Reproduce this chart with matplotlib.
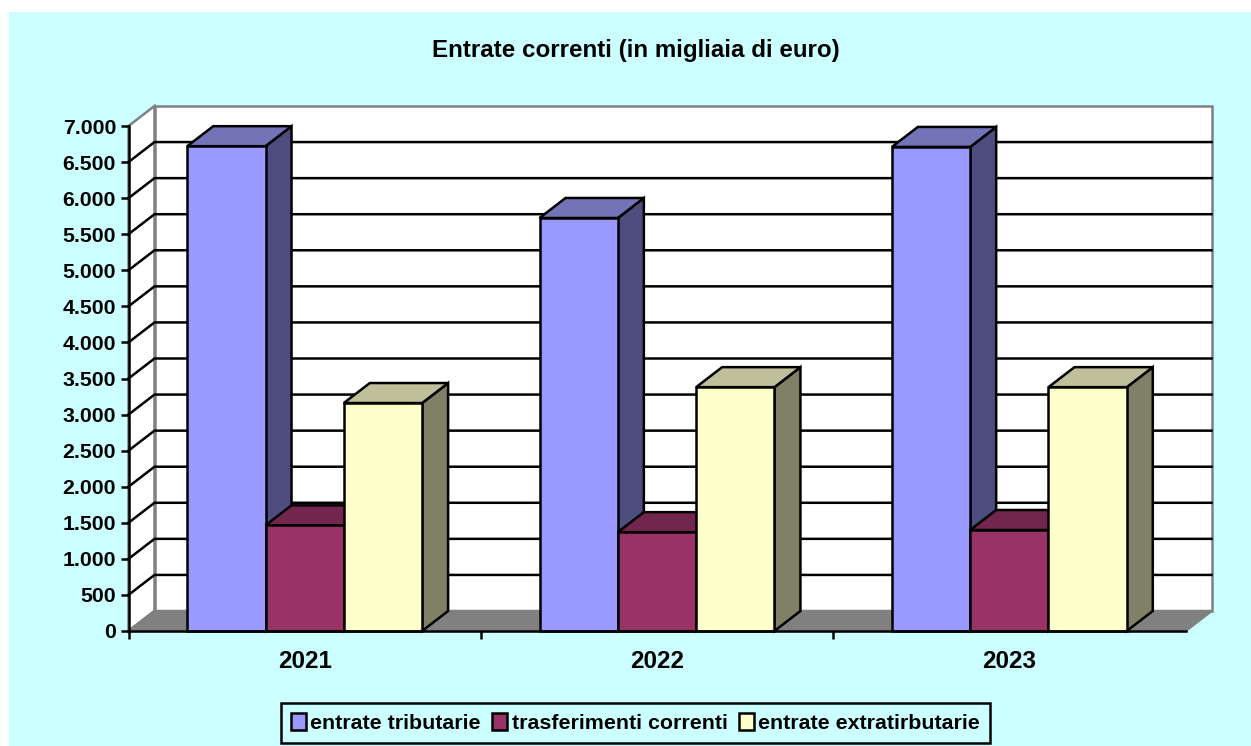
import matplotlib
matplotlib.use("Agg")
import matplotlib.pyplot as plt
from matplotlib.patches import Patch, Polygon, Rectangle

plt.rcParams['font.family'] = ['Liberation Sans', 'DejaVu Sans']
plt.rcParams['font.weight'] = 'bold'

# data
years = ["2021", "2022", "2023"]
tributarie = [6720, 5725, 6710]
trasferimenti = [1465, 1370, 1400]
extratributarie = [3160, 3380, 3380]
series_names = ["entrate tributarie", "trasferimenti correnti", "entrate extratirbutarie"]
y_ticks = list(range(0, 7500, 500))

# colors: front, top, side
colors = [("#9999FF", "#7373B8", "#4D4D80"),
          ("#993366", "#73264D", "#73264D"),
          ("#FFFFCC", "#BFBF99", "#808066")]

W, H = 1251, 746
fig = plt.figure(figsize=(W / 100, H / 100), dpi=100, facecolor="white")
fig.add_artist(Rectangle((9 / W, 0), 1 - 9 / W, 1 - 12 / H, transform=fig.transFigure,
                         facecolor="#CCFFFF", edgecolor="none", zorder=-5))

# front plane of the 3d box, in pixels
left, right, bottom, top = 128.5, 1185.5, 631, 126
ax = fig.add_axes([left / W, 1 - bottom / H, (right - left) / W, (bottom - top) / H])
ax.patch.set_alpha(0)
ax.set_xlim(0, 3)
ax.set_ylim(0, 7000)

# depth of the 3d effect
dx = 26 / (right - left) * 3
dy = 20 / (bottom - top) * 7000
lw = 1.8


def poly(pts, fc, ec="black", z=2, width=lw):
    ax.add_patch(Polygon(pts, closed=True, facecolor=fc, edgecolor=ec, linewidth=width,
                         joinstyle="miter", clip_on=False, zorder=z))


# walls and floor
poly([(0, 0), (dx, dy), (dx, 7000 + dy), (0, 7000)], "white", "#808080", 1)
poly([(dx, dy), (3 + dx, dy), (3 + dx, 7000 + dy), (dx, 7000 + dy)], "white", "#808080", 1)
poly([(0, 0), (3, 0), (3 + dx, dy), (dx, dy)], "#808080", "#808080", 1.5)

# gridlines
for v in y_ticks[1:-1]:
    ax.plot([0, dx, 3 + dx], [v, v + dy, v + dy], color="black", lw=lw, clip_on=False,
            solid_joinstyle="miter", zorder=1.2)

# bars
bar_w = 1 / 4.5
gap = bar_w * 0.75
all_series = [tributarie, trasferimenti, extratributarie]
z = 3
for g in range(len(years)):
    for s, vals in enumerate(all_series):
        x0 = g + gap + s * bar_w
        x1 = x0 + bar_w
        v = vals[g]
        front, top_c, side = colors[s]
        poly([(x1, 0), (x1 + dx, dy), (x1 + dx, v + dy), (x1, v)], side, z=z)
        poly([(x0, v), (x0 + dx, v + dy), (x1 + dx, v + dy), (x1, v)], top_c, z=z)
        poly([(x0, 0), (x1, 0), (x1, v), (x0, v)], front, z=z)
        z += 1

# axes
for sp in ["top", "right"]:
    ax.spines[sp].set_visible(False)
for sp in ["left", "bottom"]:
    ax.spines[sp].set_linewidth(lw)
    ax.spines[sp].set_zorder(40)
ax.set_yticks(y_ticks)
ax.set_yticklabels([f"{v:,}".replace(",", ".") for v in y_ticks], fontsize=15.3, fontweight="bold")
ax.tick_params(axis="y", length=5.5, width=lw, pad=3.5)
ax.set_xticks([0, 1, 2])
ax.set_xticklabels([])
ax.tick_params(axis="x", which="major", length=5.5, width=lw)
ax.set_xticks([0.5, 1.5, 2.5], minor=True)
ax.set_xticklabels(years, minor=True, fontsize=17.4, fontweight="bold")
ax.tick_params(axis="x", which="minor", length=0, pad=13.5)

fig.text(636 / W, 1 - 50.5 / H, "Entrate correnti (in migliaia di euro)", ha="center", va="center",
         fontsize=17.4, fontweight="bold")

handles = [Patch(facecolor=c[0], edgecolor="black", linewidth=lw) for c in colors]
leg = fig.legend(handles, series_names, loc="center", bbox_to_anchor=(635.5 / W, 1 - 723 / H),
                 ncol=3, fancybox=False, facecolor="#CCFFFF", edgecolor="black", framealpha=1,
                 prop={"size": 15.4, "weight": "bold"}, handlelength=0.7, handleheight=0.85,
                 handletextpad=0.2, columnspacing=0.55, borderpad=0.47, borderaxespad=0)
leg.get_frame().set_linewidth(lw)

fig.savefig("out.png", dpi=100)
